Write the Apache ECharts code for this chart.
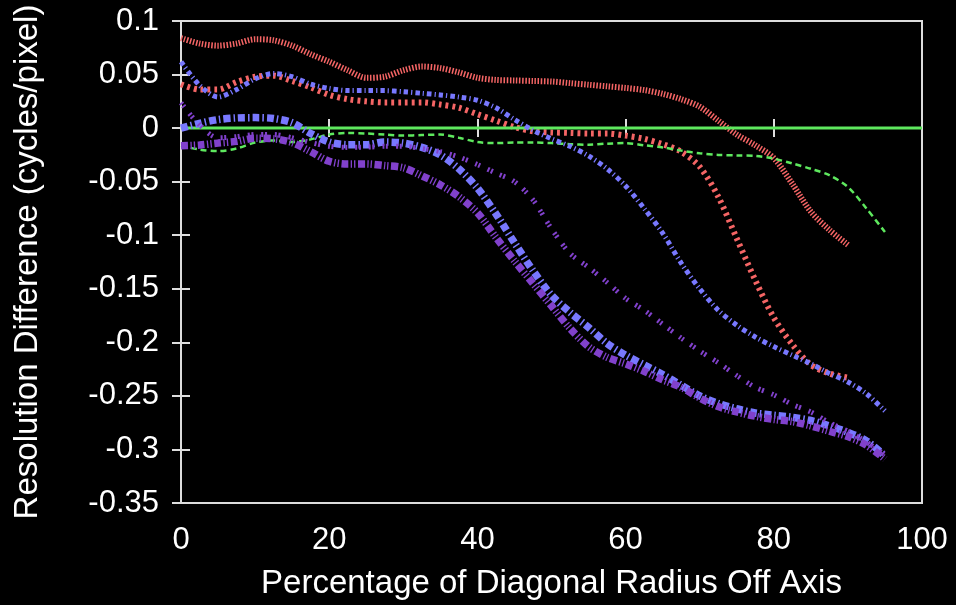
<!DOCTYPE html>
<html>
<head>
<meta charset="utf-8">
<script src="https://cdn.jsdelivr.net/npm/echarts@6/dist/echarts.min.js"></script>
<style>
  html, body { margin: 0; padding: 0; background: #000; }
  #chart { width: 956px; height: 605px; }
</style>
</head>
<body>
<div id="chart"></div>
<script>
// x positions (percent of diagonal radius)
var xs = [0, 2.5, 5, 7.5, 10, 12.5, 15, 17.5, 20, 22.5, 25, 27.5, 30, 32.5, 35, 37.5, 40, 42.5, 45, 47.5,
          50, 52.5, 55, 57.5, 60, 62.5, 65, 67.5, 70, 72.5, 75, 77.5, 80, 82.5, 85, 87.5, 90, 92.5, 95];

var redThin = [0.084, 0.079, 0.077, 0.079, 0.083, 0.082, 0.077, 0.069, 0.062, 0.054, 0.047, 0.048, 0.054, 0.0575, 0.056, 0.052, 0.047, 0.045, 0.0445, 0.044,
               0.0435, 0.042, 0.0405, 0.039, 0.0375, 0.0355, 0.032, 0.027, 0.020, 0.007, -0.006, -0.016, -0.028, -0.052, -0.078, -0.095, -0.109];
var redMid = [0.041, 0.036, 0.036, 0.043, 0.048, 0.049, 0.044, 0.038, 0.031, 0.027, 0.025, 0.024, 0.024, 0.024, 0.022, 0.019, 0.013, 0.007, 0.001, -0.003,
              -0.004, -0.0045, -0.005, -0.005, -0.007, -0.010, -0.015, -0.022, -0.036, -0.064, -0.103, -0.142, -0.177, -0.202, -0.221, -0.229, -0.233];
var greenZeroX = [0, 100];
var greenZero = [0, 0];
var greenDash = [-0.0165, -0.020, -0.0215, -0.019, -0.0135, -0.0115, -0.013, -0.0105, -0.006, -0.0045, -0.005, -0.006, -0.007, -0.0065, -0.006, -0.009, -0.013, -0.014, -0.0135, -0.0135,
                 -0.014, -0.015, -0.0155, -0.0145, -0.014, -0.016, -0.018, -0.021, -0.0235, -0.025, -0.0255, -0.026, -0.0285, -0.033, -0.038, -0.044, -0.055, -0.075, -0.097];
var blueMid = [0.062, 0.040, 0.029, 0.036, 0.046, 0.051, 0.048, 0.041, 0.037, 0.035, 0.035, 0.035, 0.034, 0.0325, 0.031, 0.029, 0.026, 0.019, 0.008, -0.002,
               -0.010, -0.017, -0.026, -0.038, -0.054, -0.075, -0.098, -0.126, -0.150, -0.170, -0.184, -0.195, -0.204, -0.212, -0.220, -0.229, -0.237, -0.248, -0.264];
var blueThick = [0.0, 0.0045, 0.008, 0.0095, 0.0098, 0.009, 0.005, -0.005, -0.013, -0.0155, -0.0155, -0.013, -0.014, -0.018, -0.025, -0.038, -0.056, -0.080, -0.107, -0.133,
                 -0.156, -0.172, -0.186, -0.201, -0.212, -0.221, -0.230, -0.240, -0.250, -0.257, -0.262, -0.266, -0.268, -0.270, -0.273, -0.278, -0.284, -0.292, -0.306];
var purpleMid = [0.0236, 0.003, -0.009, -0.008, -0.006, -0.006, -0.009, -0.0135, -0.017, -0.018, -0.0178, -0.017, -0.017, -0.019, -0.022, -0.027, -0.034, -0.042, -0.050, -0.067,
                 -0.094, -0.117, -0.130, -0.144, -0.159, -0.170, -0.183, -0.196, -0.208, -0.219, -0.231, -0.242, -0.249, -0.258, -0.265, -0.275, -0.283, -0.293, -0.305];
var purpleThick = [-0.0165, -0.0158, -0.014, -0.0124, -0.0095, -0.010, -0.0135, -0.022, -0.031, -0.0335, -0.0334, -0.035, -0.037, -0.0445, -0.053, -0.064, -0.079, -0.102, -0.124, -0.145,
                   -0.166, -0.187, -0.204, -0.214, -0.220, -0.227, -0.235, -0.242, -0.252, -0.260, -0.265, -0.269, -0.272, -0.274, -0.278, -0.283, -0.288, -0.296, -0.309];

function pairs(x, y) {
  return y.map(function (v, i) { return [x[i], v]; });
}

var FONT = 'Liberation Sans, Arial, sans-serif';
var FS = 31;      // tick labels
var NAME_FS = 33; // axis titles
var chart = echarts.init(document.getElementById('chart'));

function line(data, color, width, dash) {
  return {
    type: 'line',
    data: data,
    smooth: 0.3,
    symbol: 'none',
    silent: true,
    animation: false,
    lineStyle: { color: color, width: width, type: dash, cap: 'butt' }
  };
}

var tickStyle = { show: true, inside: true, length: 9, lineStyle: { color: '#ddd', width: 2 } };

var options = {
  backgroundColor: '#000',
  textStyle: { fontFamily: FONT },
  grid: {
    show: true,
    left: 181,
    right: 34,
    top: 21,
    bottom: 100,
    borderColor: '#ddd',
    borderWidth: 2,
    containLabel: false
  },
  xAxis: [{
    type: 'value',
    min: 0,
    max: 100,
    interval: 20,
    name: 'Percentage of Diagonal Radius Off Axis',
    nameLocation: 'middle',
    nameGap: 64,
    nameTextStyle: { color: '#fff', fontSize: NAME_FS, fontFamily: FONT },
    axisLine: { show: false },
    axisTick: tickStyle,
    splitLine: { show: false },
    axisLabel: { color: '#fff', fontSize: FS, fontFamily: FONT, margin: 22 }
  }, {
    type: 'value',
    position: 'top',
    min: 0,
    max: 100,
    interval: 20,
    axisLine: { show: false },
    axisTick: tickStyle,
    splitLine: { show: false },
    axisLabel: { show: false }
  }],
  yAxis: [{
    type: 'value',
    min: -0.35,
    max: 0.1,
    interval: 0.05,
    name: 'Resolution Difference (cycles/pixel)',
    nameLocation: 'middle',
    nameGap: 137,
    nameTextStyle: { color: '#fff', fontSize: NAME_FS, fontFamily: FONT },
    axisLine: { show: false },
    axisTick: tickStyle,
    splitLine: { show: false },
    axisLabel: {
      color: '#fff', fontSize: FS, fontFamily: FONT, margin: 22,
      formatter: function (v) { return String(parseFloat(v.toFixed(2))); }
    }
  }, {
    type: 'value',
    position: 'right',
    min: -0.35,
    max: 0.1,
    interval: 0.05,
    axisLine: { show: false },
    axisTick: tickStyle,
    splitLine: { show: false },
    axisLabel: { show: false }
  }],
  series: [
    line(pairs(xs, redThin), '#f56565', 6, [1.5, 1.6]),
    line(pairs(xs, redMid), '#f56565', 6, [2.8, 4]),
    line(pairs(greenZeroX, greenZero), '#5ee85e', 3, 'solid'),
    line(pairs(xs, greenDash), '#5ee85e', 2.5, [6, 4]),
    line(pairs(xs, blueMid), '#7878ff', 5, [4.5, 3, 1.2, 3]),
    line(pairs(xs, blueThick), '#7878ff', 7.5, [7, 3, 1.5, 3]),
    line(pairs(xs, purpleMid), '#8141cc', 5, [2, 1.6, 2, 8]),
    line(pairs(xs, purpleThick), '#8141cc', 7.5, [7, 2.5, 1.3, 2, 1.3, 2.5])
  ]
};

chart.setOption(options);
</script>
</body>
</html>
